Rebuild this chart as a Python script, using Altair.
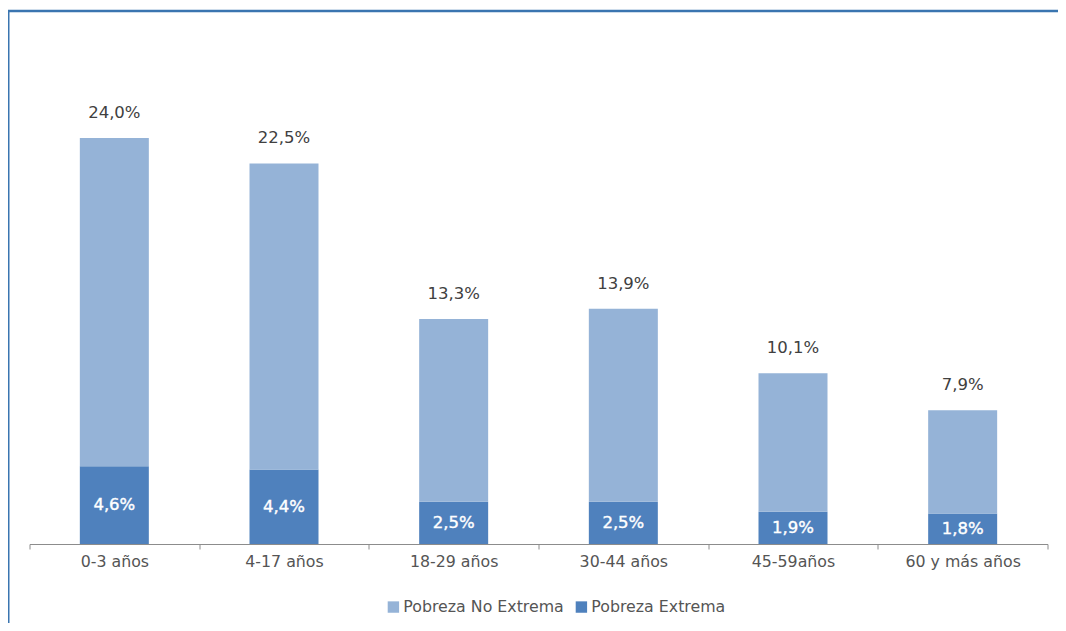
import altair as alt
import pandas as pd

categories = ["0-3 años", "4-17 años", "18-29 años", "30-44 años", "45-59años", "60 y más años"]
extreme = [4.6, 4.4, 2.5, 2.5, 1.9, 1.8]
total = [24.0, 22.5, 13.3, 13.9, 10.1, 7.9]
series = ["Pobreza No Extrema", "Pobreza Extrema"]
colors = ["#95B3D7", "#4F81BD"]

rows = []
for c, e, t in zip(categories, extreme, total):
    rows.append({"cat": c, "serie": "Pobreza Extrema", "value": e, "ord": 0})
    rows.append({"cat": c, "serie": "Pobreza No Extrema", "value": round(t - e, 1), "ord": 1})
df = pd.DataFrame(rows)
tot_df = pd.DataFrame({"cat": categories, "total": total})
ext_df = pd.DataFrame({"cat": categories, "extreme": extreme})

W, H = 1018, 406
FONT = "DejaVu Sans"
FS = 15.8

xenc = alt.X("cat:N", sort=categories, title=None,
             scale=alt.Scale(paddingInner=0, paddingOuter=0),
             axis=alt.Axis(labelAngle=0, tickBand="extent", domainColor="#8c8c8c",
                           tickColor="#8c8c8c", tickSize=5, labelPadding=5,
                           labelFont=FONT, labelFontSize=FS, labelColor="#555555",
                           grid=False))
yscale = alt.Scale(domain=[0, 24])

bars = alt.Chart(df).mark_bar(size=69).encode(
    x=xenc,
    y=alt.Y("value:Q", stack="zero", scale=yscale, axis=None),
    color=alt.Color("serie:N", scale=alt.Scale(domain=series, range=colors),
                    legend=alt.Legend(title=None, orient="none", direction="horizontal",
                                      legendX=356, legendY=461, symbolType="square",
                                      symbolSize=130, symbolStrokeWidth=0,
                                      labelFont=FONT, labelFontSize=FS, labelLimit=400,
                                      labelColor="#555555", columnPadding=9,
                                      symbolOffset=0, labelOffset=2)),
    order=alt.Order("ord:Q"),
)

top_labels = alt.Chart(tot_df).transform_calculate(
    lab="replace(format(datum.total, '.1f'), '.', ',') + '%'"
).mark_text(font=FONT, fontSize=16.5, color="#404040", baseline="bottom", dy=-17).encode(
    x=alt.X("cat:N", sort=categories),
    y=alt.Y("total:Q", scale=yscale),
    text="lab:N",
)

in_labels = alt.Chart(ext_df).transform_calculate(
    lab="replace(format(datum.extreme, '.1f'), '.', ',') + '%'",
    mid="datum.extreme / 2",
).mark_text(font=FONT, fontSize=16.5, color="white", baseline="middle",
            stroke="white", strokeWidth=0.4).encode(
    x=alt.X("cat:N", sort=categories),
    y=alt.Y("mid:Q", scale=yscale),
    text="lab:N",
)

frame_data = alt.Data(values=[{"a": 1}])
left_line = alt.Chart(frame_data).mark_rule(color="#3A75B0", strokeWidth=2).encode(
    x=alt.value(-21), y=alt.value(-127), y2=alt.value(H + 80))
top_line = alt.Chart(frame_data).mark_rule(color="#3A75B0", strokeWidth=2.5).encode(
    x=alt.value(-22), x2=alt.value(W + 12), y=alt.value(-127))

chart = alt.layer(bars, top_labels, in_labels, left_line, top_line).properties(
    width=W, height=H,
    background="white",
    autosize=alt.AutoSizeParams(type="none"),
    padding={"left": 21.5, "top": 130, "right": 10, "bottom": 79},
).configure_view(stroke=None)

chart.save("out.html", embed_options={"renderer": "svg", "actions": False})
